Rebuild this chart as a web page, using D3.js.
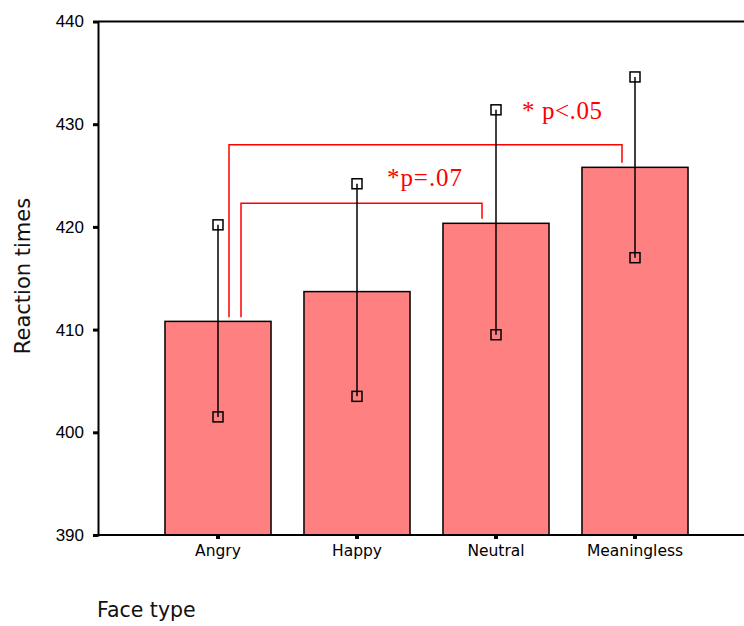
<!DOCTYPE html>
<html>
<head>
<meta charset="utf-8">
<script src="https://cdn.jsdelivr.net/npm/d3@7"></script>
<style>
  html, body { margin: 0; padding: 0; background: #fff; }
  svg { display: block; }
</style>
</head>
<body>
<svg id="chart" width="744" height="626"></svg>
<script>
// Mean reaction time per face type with 95% confidence intervals
const categories = ["Angry", "Happy", "Neutral", "Meaningless"];
const means      = [410.8, 413.7, 420.35, 425.8];
const ciLow      = [401.5, 403.5, 409.5, 417.0];
const ciHigh     = [420.2, 424.2, 431.4, 434.6];
const yTicks     = [390, 400, 410, 420, 430, 440];

// Pairwise comparisons drawn as brackets above the bars
const compFrom   = ["Angry", "Angry"];
const compTo     = ["Neutral", "Meaningless"];
const compTop    = [422.3, 428.0];
const compLabel  = ["*p=.07", "* p<.05"];
const compLabelY = [424.0, 430.5];

const svg = d3.select("#chart");
const plotLeft = 98, plotRight = 744, plotTop = 21.5, plotBottom = 535;

const y = d3.scaleLinear().domain([390, 440]).range([plotBottom, plotTop]);
const x = d3.scaleBand().domain(categories)
  .range([148.5, 704.5]).paddingInner(0.237).paddingOuter(0.1185);
const cx = c => x(c) + x.bandwidth() / 2;

const sans = "'DejaVu Sans', sans-serif";

// Bars
svg.append("g").selectAll("rect").data(categories).join("rect")
  .attr("x", d => x(d))
  .attr("y", (d, i) => y(means[i]))
  .attr("width", x.bandwidth())
  .attr("height", (d, i) => y(390) - y(means[i]))
  .attr("fill", "#ff8080")
  .attr("stroke", "#000")
  .attr("stroke-width", 1.5);

// Comparison brackets
const legOffsetL = [23, 11], legOffsetR = [-14, -13];
compFrom.forEach((f, i) => {
  const t = compTo[i];
  const x1 = cx(f) + legOffsetL[i], x2 = cx(t) + legOffsetR[i];
  const fromVal = means[categories.indexOf(f)] + 0.4;
  const toVal = means[categories.indexOf(t)] + 0.45;
  const path = d3.path();
  path.moveTo(x1, y(fromVal));
  path.lineTo(x1, y(compTop[i]));
  path.lineTo(x2, y(compTop[i]));
  path.lineTo(x2, y(toVal));
  svg.append("path").attr("d", path.toString())
    .attr("fill", "none").attr("stroke", "#ff0000").attr("stroke-width", 1.5);
  svg.append("text")
    .attr("x", x2 - 20).attr("y", y(compLabelY[i]))
    .attr("text-anchor", "end")
    .attr("fill", "#ff0000")
    .attr("textLength", i === 0 ? 75 : 80)
    .attr("lengthAdjust", "spacing")
    .style("font-family", "'Liberation Serif', 'Times New Roman', serif")
    .style("font-size", "25px")
    .text(compLabel[i]);
});

// Error bars with square end markers
const eg = svg.append("g");
categories.forEach((c, i) => {
  eg.append("line")
    .attr("x1", cx(c)).attr("x2", cx(c))
    .attr("y1", y(ciLow[i])).attr("y2", y(ciHigh[i]))
    .attr("stroke", "#000").attr("stroke-width", 1.5);
  [ciLow[i], ciHigh[i]].forEach(v => {
    eg.append("rect")
      .attr("x", cx(c) - 5).attr("y", y(v) - 5)
      .attr("width", 10).attr("height", 10)
      .attr("fill", "none").attr("stroke", "#000").attr("stroke-width", 1.5);
  });
});

// Frame lines
svg.append("line").attr("x1", plotLeft).attr("x2", plotRight).attr("y1", plotTop).attr("y2", plotTop)
  .attr("stroke", "#000").attr("stroke-width", 2);
svg.append("line").attr("x1", plotLeft).attr("x2", plotRight).attr("y1", plotBottom).attr("y2", plotBottom)
  .attr("stroke", "#000").attr("stroke-width", 2);

// Y axis
const yAxis = svg.append("g").attr("transform", `translate(${plotLeft},0)`)
  .call(d3.axisLeft(y).tickValues(yTicks).tickSize(5).tickPadding(9).tickFormat(d3.format("d")));
yAxis.select(".domain").attr("stroke-width", 2);
yAxis.selectAll(".tick line").attr("stroke-width", 3);
yAxis.selectAll(".tick text")
  .style("font-family", "'Liberation Sans', Arial, sans-serif")
  .style("font-size", "17px").attr("fill", "#000");

// X axis
const xAxis = svg.append("g").attr("transform", `translate(0,${plotBottom})`)
  .call(d3.axisBottom(x).tickSize(4).tickPadding(6));
xAxis.select(".domain").remove();
xAxis.selectAll(".tick line").attr("stroke-width", 4);
xAxis.selectAll(".tick text")
  .style("font-family", sans)
  .style("font-size", "15.5px").attr("fill", "#000");

// Axis titles
svg.append("text")
  .attr("transform", "translate(30,276) rotate(-90)")
  .attr("text-anchor", "middle")
  .style("font-family", sans).style("font-size", "21px").attr("fill", "#111")
  .text("Reaction times");
svg.append("text")
  .attr("x", 97).attr("y", 617)
  .style("font-family", sans).style("font-size", "20.5px").attr("fill", "#111")
  .text("Face type");
</script>
</body>
</html>
